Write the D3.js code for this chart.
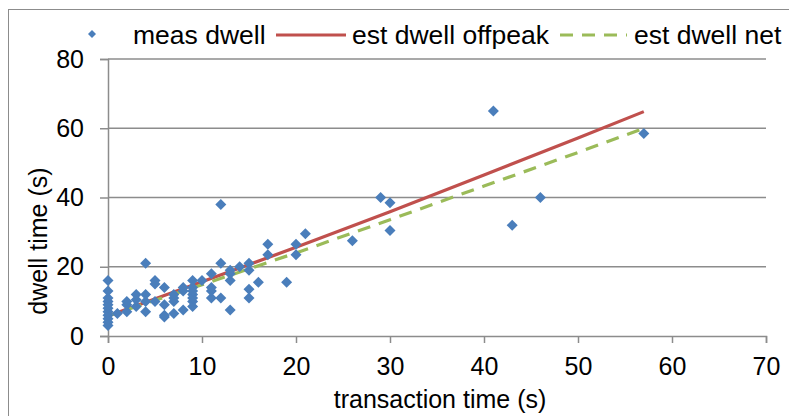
<!DOCTYPE html>
<html><head><meta charset="utf-8">
<script src="https://cdn.jsdelivr.net/npm/d3@7/dist/d3.min.js"></script>
<style>
html,body{margin:0;padding:0;background:#fff;}
svg{display:block;font-family:"Liberation Sans",Arial,sans-serif;}
</style></head>
<body>
<svg id="chart" width="789" height="416"></svg>
<script>
// measured dwell (transaction time s, dwell time s)
const measX = [0,0,0,0,0,0,0,0,0,0,0, 1, 2,2,2, 3,3,3, 4,4,4,4, 5,5,5, 6,6,6,6, 7,7,7,7, 8,8,8,
  9,9,9,9,9,9,9, 10, 11,11,11,11, 12,12,12, 13,13,13,13, 14, 15,15,15,15, 16, 17,17, 19, 20,20, 21, 26, 29, 30,30, 41, 43, 46, 57];
const measY = [3,4,5,6,7,8,9,10,11,13,16, 6.5, 7,9,10, 8.5,10.5,12, 7,10,12,21, 10,15,16, 5.5,6,9,14, 6.5,10,11,12, 7.5,13,14,
  8.5,10,11,12,13,14,16, 16, 11,13,14,18, 11,21,38, 7.5,16,18,19, 20, 11,13.5,19,21, 15.5, 23.5,26.5, 15.5, 23.5,26.5, 29.5, 27.5, 40, 30.5,38.5, 65, 32, 40, 58.5];
// estimated dwell curves
const estX = [0,10,20,30,40,50,57];
const estOffpeak = [5.8,15.7,25.6,35.9,46.5,57.2,64.8];
const estNet = [5.8,14.8,24.0,33.6,43.3,53.0,60.0];
const xTicks = [0,10,20,30,40,50,60,70];
const yTicks = [0,20,40,60,80];
const legendLabels = ["meas dwell","est dwell offpeak","est dwell net"];

const svg = d3.select("#chart");
const grid = "#8c8c8c", blue = "#4A7EBB", red = "#C0504D", green = "#9BBB59";
const L = 108, R = 766, T = 59, B = 336;
const x = d3.scaleLinear().domain([0,70]).range([L,R]);
const y = d3.scaleLinear().domain([0,80]).range([B,T]);

// frame
svg.append("rect").attr("x",8.5).attr("y",9.5).attr("width",800).attr("height",420)
  .attr("fill","none").attr("stroke","#8c8c8c").attr("stroke-width",1);

// gridlines
svg.append("g").selectAll("line").data(yTicks.filter(d=>d>0)).join("line")
  .attr("x1",L).attr("x2",R).attr("y1",d=>y(d)).attr("y2",d=>y(d))
  .attr("stroke",grid).attr("stroke-width",1.5);

// axes
const yAxis = svg.append("g").attr("transform",`translate(${L},0)`)
  .call(d3.axisLeft(y).tickValues(yTicks).tickSize(8).tickPadding(16));
const xAxis = svg.append("g").attr("transform",`translate(0,${B})`)
  .call(d3.axisBottom(x).tickValues(xTicks).tickSize(7).tickPadding(14));
[yAxis,xAxis].forEach(a=>{
  a.select(".domain").attr("stroke",grid).attr("stroke-width",1.5);
  a.selectAll(".tick line").attr("stroke",grid).attr("stroke-width",1.5);
  a.selectAll(".tick text").attr("font-size",25).attr("fill","#000")
   .attr("font-family","'Liberation Sans',Arial,sans-serif");
});

// lines
const lineGen = vals => d3.line().x((d,i)=>x(estX[i])).y(d=>y(d))(vals);
svg.append("path").attr("d",lineGen(estOffpeak)).attr("fill","none")
  .attr("stroke",red).attr("stroke-width",3.2);
svg.append("path").attr("d",lineGen(estNet)).attr("fill","none")
  .attr("stroke",green).attr("stroke-width",3.2).attr("stroke-dasharray","13,9");

// markers
const diamond = "M0,-5.5L5.5,0L0,5.5L-5.5,0Z";
svg.append("g").selectAll("path").data(measX.map((d,i)=>[d,measY[i]])).join("path")
  .attr("d",diamond).attr("transform",d=>`translate(${x(d[0])},${y(d[1])})`)
  .attr("fill",blue);

// axis titles
svg.append("text").attr("x",440).attr("y",408).attr("text-anchor","middle")
  .attr("font-size",25).text("transaction time (s)");
svg.append("text").attr("transform","translate(47,241) rotate(-90)").attr("text-anchor","middle")
  .attr("font-size",25).text("dwell time (s)");

// legend
const lg = svg.append("g");
lg.append("path").attr("d","M0,-4L4,0L0,4L-4,0Z").attr("transform","translate(92,34)").attr("fill",blue);
lg.append("text").attr("x",133).attr("y",44).attr("font-size",26.5).text(legendLabels[0]);
lg.append("line").attr("x1",276).attr("x2",346).attr("y1",35).attr("y2",35).attr("stroke",red).attr("stroke-width",3.2);
lg.append("text").attr("x",352).attr("y",44).attr("font-size",26.5).text(legendLabels[1]);
lg.append("line").attr("x1",560).attr("x2",627).attr("y1",35).attr("y2",35).attr("stroke",green).attr("stroke-width",3.2).attr("stroke-dasharray","13,9");
lg.append("text").attr("x",634).attr("y",44).attr("font-size",26.5).text(legendLabels[2]);
</script>
</body></html>
